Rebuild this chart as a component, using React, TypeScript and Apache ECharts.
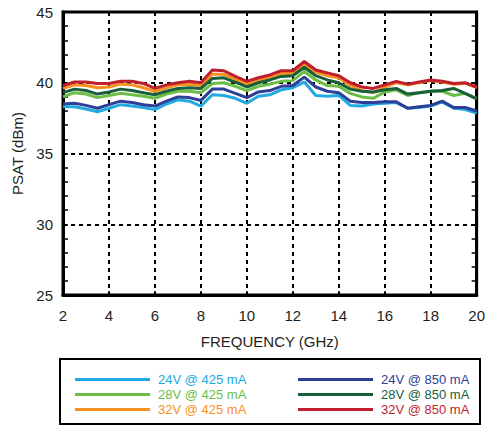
import React, { useEffect, useRef } from "react";
import * as echarts from "echarts";

const freqs = [2, 2.5, 3, 3.5, 4, 4.5, 5, 5.5, 6, 6.5, 7, 7.5, 8, 8.5, 9, 9.5, 10, 10.5, 11, 11.5, 12, 12.5, 13, 13.5, 14, 14.5, 15, 15.5, 16, 16.5, 17, 17.5, 18, 18.5, 19, 19.5, 20];

const v24_425 = [38.3, 38.3, 38.15, 37.95, 38.2, 38.45, 38.35, 38.25, 38.1, 38.5, 38.8, 38.7, 38.35, 39.15, 39.1, 38.9, 38.55, 39.05, 39.15, 39.5, 39.65, 40.05, 39.1, 39.05, 39.1, 38.4, 38.35, 38.5, 38.55, 38.6, 38.2, 38.25, 38.35, 38.65, 38.2, 38.1, 37.85];
const v28_425 = [39.0, 39.3, 39.2, 38.95, 39.1, 39.25, 39.15, 39.05, 38.9, 39.2, 39.4, 39.4, 39.3, 39.95, 40.0, 39.75, 39.45, 39.75, 39.9, 40.1, 40.15, 40.8, 40.2, 39.8, 39.75, 39.25, 39.0, 38.9, 39.35, 39.5, 39.1, 39.3, 39.4, 39.4, 39.1, 39.25, 38.9];
const v32_425 = [39.6, 39.85, 39.8, 39.65, 39.7, 39.9, 39.85, 39.65, 39.4, 39.65, 39.85, 39.9, 39.8, 40.6, 40.6, 40.25, 39.9, 40.2, 40.35, 40.65, 40.65, 41.25, 40.75, 40.5, 40.35, 39.8, 39.45, 39.3, 39.7, 40.0, 39.85, 40.0, 40.15, 40.05, 39.9, 39.95, 39.65];
const v24_850 = [38.5, 38.55, 38.4, 38.2, 38.45, 38.7, 38.6, 38.45, 38.35, 38.7, 39.0, 38.95, 38.75, 39.55, 39.55, 39.25, 38.95, 39.35, 39.45, 39.75, 39.8, 40.4, 39.7, 39.4, 39.3, 38.7, 38.6, 38.6, 38.65, 38.65, 38.2, 38.3, 38.4, 38.7, 38.25, 38.25, 38.0];
const v28_850 = [39.3, 39.55, 39.45, 39.2, 39.35, 39.55, 39.45, 39.3, 39.15, 39.4, 39.6, 39.65, 39.6, 40.3, 40.35, 40.05, 39.7, 40.0, 40.2, 40.45, 40.5, 41.1, 40.5, 40.2, 40.0, 39.55, 39.4, 39.35, 39.5, 39.6, 39.2, 39.3, 39.4, 39.45, 39.6, 39.25, 38.85];
const v32_850 = [39.8, 40.05, 40.05, 39.95, 39.95, 40.1, 40.1, 39.95, 39.6, 39.85, 40.0, 40.1, 40.0, 40.9, 40.85, 40.45, 40.1, 40.35, 40.55, 40.85, 40.85, 41.5, 40.9, 40.7, 40.5, 40.0, 39.7, 39.6, 39.85, 40.1, 39.9, 40.05, 40.2, 40.1, 39.95, 40.0, 39.7];

const seriesNames = ["24V @ 425 mA", "28V @ 425 mA", "32V @ 425 mA", "24V @ 850 mA", "28V @ 850 mA", "32V @ 850 mA"];
const seriesValues = [v24_425, v28_425, v32_425, v24_850, v28_850, v32_850];
const seriesColors = ["#23a9e1", "#6cbd45", "#f7901e", "#2e3f97", "#17603a", "#be1e2d"];

const xTicks = { min: 2, max: 20, interval: 2 };
const yTicks = { min: 25, max: 45, interval: 5 };

const FONT = "'Liberation Sans', Arial, Helvetica, sans-serif";
const TEXT = "#231f20";

export default function App() {
  const ref = useRef<HTMLDivElement>(null);
  useEffect(() => {
    document.body.style.margin = "0";
    const chart = echarts.init(ref.current!, null, { renderer: "svg" });
    const gridLine = { show: true, lineStyle: { color: "#000", width: 2, type: [4, 4] as any } };
    const legendItems = (idx: number[]) =>
      idx.map((i) => ({ name: seriesNames[i], textStyle: { color: seriesColors[i] } }));
    const legendBase = {
      orient: "vertical",
      top: 372,
      padding: 0,
      icon: "rect",
      itemWidth: 75,
      itemHeight: 3,
      itemGap: 0,
      selectedMode: false,
      textStyle: { fontFamily: FONT, fontSize: 13, lineHeight: 15, padding: [0, 0, 0, 3] },
    };
    chart.setOption({
      animation: false,
      textStyle: { fontFamily: FONT },
      grid: { left: 63, right: 8, top: 12, bottom: 132, show: true, borderColor: "#000", borderWidth: 3 },
      xAxis: {
        type: "value",
        min: xTicks.min,
        max: xTicks.max,
        interval: xTicks.interval,
        name: "FREQUENCY (GHz)",
        nameLocation: "middle",
        nameGap: 39,
        nameTextStyle: { fontSize: 15, color: TEXT, fontFamily: FONT },
        axisLine: { show: true, lineStyle: { color: "#000", width: 3 } },
        axisTick: { show: true, inside: true, length: 4, lineStyle: { color: "#000", width: 1.5 } },
        axisLabel: { fontSize: 15, color: TEXT, margin: 13, fontFamily: FONT },
        splitLine: gridLine,
      },
      yAxis: [
        {
          type: "value",
          min: yTicks.min,
          max: yTicks.max,
          interval: yTicks.interval,
          name: "PSAT (dBm)",
          nameLocation: "middle",
          nameGap: 38,
          nameTextStyle: { fontSize: 15, color: TEXT, fontFamily: FONT },
          axisLine: { show: true, lineStyle: { color: "#000", width: 3 } },
          axisTick: { show: true, inside: true, length: 5, lineStyle: { color: "#000", width: 1.5 } },
          minorTick: { show: true, splitNumber: 5, length: 5, lineStyle: { color: "#000", width: 1.5 } },
          axisLabel: { fontSize: 15, color: TEXT, margin: 10, fontFamily: FONT },
          splitLine: gridLine,
        },
        {
          type: "value",
          position: "right",
          min: yTicks.min,
          max: yTicks.max,
          interval: yTicks.interval,
          axisLine: { show: true, lineStyle: { color: "#000", width: 3 } },
          axisTick: { show: true, inside: true, length: 5, lineStyle: { color: "#000", width: 1.5 } },
          minorTick: { show: true, splitNumber: 5, length: 5, lineStyle: { color: "#000", width: 1.5 } },
          axisLabel: { show: false },
          splitLine: { show: false },
        },
      ],
      legend: [
        { ...legendBase, left: 75, data: legendItems([0, 1, 2]) },
        { ...legendBase, left: 298, data: legendItems([3, 4, 5]) },
      ],
      graphic: [
        {
          type: "rect",
          shape: { x: 60, y: 359, width: 420, height: 65 },
          style: { fill: "none", stroke: "#000", lineWidth: 2 },
          silent: true,
        },
      ],
      series: seriesValues.map((vals, i) => ({
        name: seriesNames[i],
        type: "line",
        data: freqs.map((f, j) => [f, vals[j]]),
        showSymbol: false,
        symbol: "none",
        color: seriesColors[i],
        lineStyle: { width: 3, color: seriesColors[i] },
        z: 2 + i,
      })),
    });
    return () => chart.dispose();
  }, []);
  return <div ref={ref} style={{ width: 488, height: 427 }} />;
}
